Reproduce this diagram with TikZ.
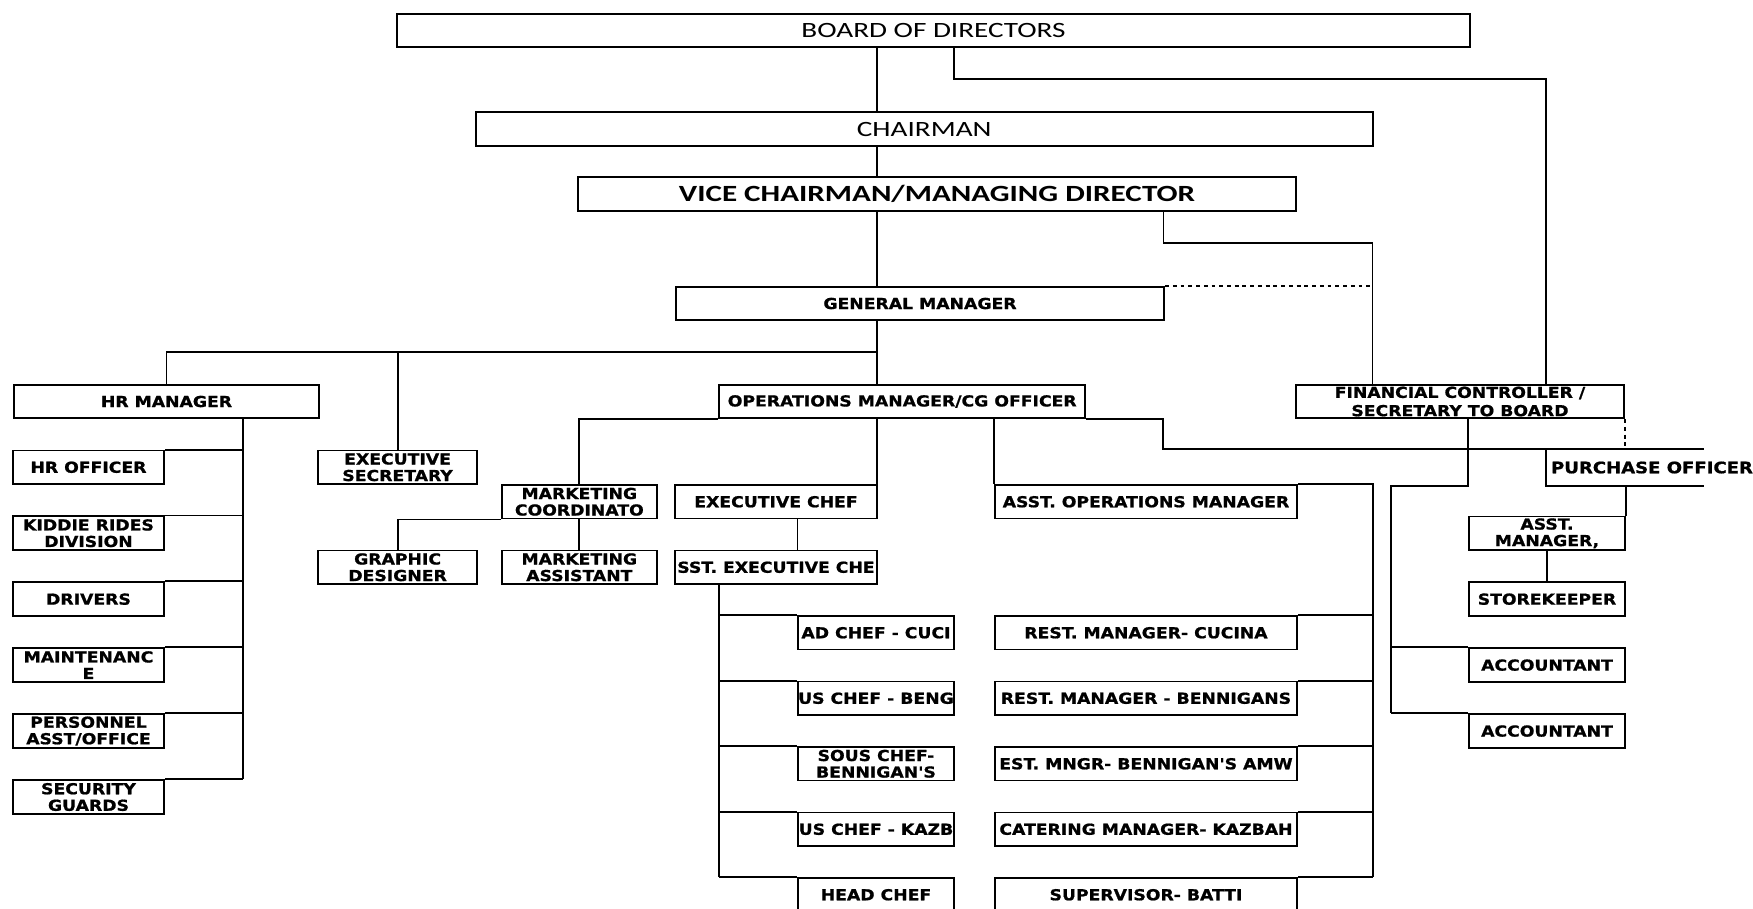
\documentclass[tikz,border=0pt]{standalone}
\usepackage{fontspec}
\setmainfont{DejaVu Sans}
\newfontfamily\pixfont[FakeStretch=1.14, BoldFeatures={FakeBold=1}]{DejaVu Sans}
\newfontfamily\capfont[FakeStretch=1.34]{Carlito}

\tikzset{
  orgbox/.style={draw, line width=.55pt, fill=white, inner sep=0pt, align=center,
    minimum height=.335cm, font={\pixfont\bfseries\fontsize{4.3}{4.7}\selectfont}},
  topbox/.style={orgbox, font={\capfont\fontsize{6.2}{7}\selectfont}},
  link/.style={line width=.55pt},
  dotlink/.style={link, dash pattern=on 1.1pt off 1.1pt},
}

\begin{document}
\begin{tikzpicture}[x=0.01cm, y=-0.01cm]
  \useasboundingbox (0,0) rectangle (1753,908);
  \clip (0,0) rectangle (1753,908);
  \fill[white] (0,0) rectangle (1753,908);

  %---------------- top ----------------
  \node[topbox, minimum width=10.72cm] (board) at (933.5,30.5) {BOARD OF DIRECTORS};
  \node[topbox, minimum width=8.965cm] (chair) at (924.25,129) {CHAIRMAN};
  \node[topbox, minimum width=7.17cm, minimum height=.34cm,
    font={\capfont\bfseries\fontsize{6.6}{7}\selectfont}] (vicechair) at (937,194) {VICE CHAIRMAN/MANAGING DIRECTOR};
  \node[orgbox, minimum width=4.88cm] (genmgr) at (920,303.5) {GENERAL MANAGER};

  %---------------- second tier ----------------
  \node[orgbox, minimum width=3.05cm] (hrmgr) at (166.5,401.5) {HR MANAGER};
  \node[orgbox, minimum width=3.655cm] (opsmgr) at (902.25,401.5) {OPERATIONS MANAGER/CG OFFICER};
  \node[orgbox, minimum width=3.286cm, font={\pixfont\bfseries\fontsize{4.3}{5.2}\selectfont}]
    (fincon) at (1460,401.5) {FINANCIAL CONTROLLER /\\SECRETARY TO BOARD};

  %---------------- hr ----------------
  \foreach \name/\txt [count=\i from 0] in {hroff/HR OFFICER, kiddie/{KIDDIE RIDES\\DIVISION},
      drivers/DRIVERS, maint/{MAINTENANC\\E}, persasst/{PERSONNEL\\ASST/OFFICE}, secguard/{SECURITY\\GUARDS}}
    \node[orgbox, minimum width=1.51cm] (\name) at (88.5,{467.25+65.95*\i}) {\txt};

  %---------------- marketing ----------------
  \node[orgbox, minimum width=1.584cm] (execsec) at (397.6,467.25) {EXECUTIVE\\SECRETARY};
  \node[orgbox, minimum width=1.584cm] (graphic) at (397.6,567.25) {GRAPHIC\\DESIGNER};
  \node[orgbox, minimum width=1.553cm] (mktcoord) at (579.35,501.75) {MARKETING\\COORDINATO};
  \node[orgbox, minimum width=1.553cm] (mktasst) at (579.35,567.25) {MARKETING\\ASSISTANT};

  %---------------- kitchen ----------------
  \node[orgbox, minimum width=2.02cm] (execchef) at (776,501.75) {EXECUTIVE CHEF};
  \node[orgbox, minimum width=2.02cm] (asstchef) at (776,567.25) {SST. EXECUTIVE CHE};
  \foreach \name/\txt [count=\i from 0] in {chefa/AD CHEF - CUCI, chefb/US CHEF - BENG,
      chefc/{SOUS CHEF-\\BENNIGAN'S}, chefd/US CHEF - KAZB, chefe/HEAD CHEF}
    \node[orgbox, minimum width=1.56cm] (\name) at (876,{632.75+65.5*\i}) {\txt};

  %---------------- restaurants ----------------
  \node[orgbox, minimum width=3.02cm] (asstops) at (1146,501.75) {ASST. OPERATIONS MANAGER};
  \foreach \name/\txt [count=\i from 0] in {resta/REST. MANAGER- CUCINA, restb/REST. MANAGER - BENNIGANS,
      restc/EST. MNGR- BENNIGAN'S AMW, restd/CATERING MANAGER- KAZBAH, reste/SUPERVISOR- BATTI}
    \node[orgbox, minimum width=3.02cm] (\name) at (1146,{632.75+65.5*\i}) {\txt};

  %---------------- finance ----------------
  \node[font={\pixfont\bfseries\fontsize{4.5}{5}\selectfont}, inner sep=0pt] (purch) at (1652,467.5) {PURCHASE OFFICER};
  \node[orgbox, minimum width=1.56cm] (asstmgr) at (1547,533.25) {ASST.\\MANAGER,};
  \node[orgbox, minimum width=1.56cm] (storekeep) at (1547,599.15) {STOREKEEPER};
  \node[orgbox, minimum width=1.56cm] (acct1) at (1547,665.1) {ACCOUNTANT};
  \node[orgbox, minimum width=1.56cm] (acct2) at (1547,731.05) {ACCOUNTANT};

  %---------------- links ----------------
  \coordinate (spine) at (877,0);
  \coordinate (bdturn) at (954,79);
  \coordinate (bddrop) at (1546,0);
  \coordinate (vcturn) at (1163.5,242.7);
  \coordinate (vcdrop) at (1372.5,0);
  \coordinate (gmbranch) at (877,352);
  \coordinate (hrspine) at (243,0);
  \coordinate (chefdrop) at (797.5,0);
  \coordinate (chefspine) at (719.2,0);
  \coordinate (restspine) at (1372.7,0);
  \coordinate (purturn) at (1163.3,449.3);
  \coordinate (purend) at (1704,449.3);
  \coordinate (purleft) at (1545.7,0);
  \coordinate (purbot) at (1704,485.7);
  \coordinate (acctturn) at (1390.7,485.7);

  \draw[link] (board.south -| spine) -- (chair.north -| spine);
  \draw[link] (chair.south -| spine) -- (vicechair.north -| spine);
  \draw[link] (vicechair.south -| spine) -- (genmgr.north -| spine);
  \draw[link] (genmgr.south -| spine) -- (opsmgr.north -| spine);
  \draw[link] (opsmgr.south -| spine) -- (execchef.north -| spine);
  \draw[link] (board.south -| bdturn) -- (bdturn) -| (fincon.north -| bddrop);
  \draw[link] (vicechair.south -| vcturn) -- (vcturn) -| (fincon.north -| vcdrop);
  \draw[dotlink] (genmgr.north east) -- (genmgr.north east -| vcdrop);

  \draw[link] (gmbranch) -| (hrmgr.north);
  \draw[link] (gmbranch -| execsec.north) -- (execsec.north);
  \draw[link] (hrmgr.south -| hrspine) -- (secguard.north east -| hrspine);
  \foreach \name in {hroff, kiddie, drivers, maint, persasst, secguard}
    \draw[link] (\name.north east) -- (\name.north east -| hrspine);

  \draw[link] (opsmgr.south west) -| (mktcoord.north);
  \draw[link] (mktcoord.south west) -| (graphic.north);
  \draw[link] (mktcoord.south) -- (mktasst.north);

  \draw[link] (execchef.south -| chefdrop) -- (asstchef.north -| chefdrop);
  \draw[link] (asstchef.south -| chefspine) -- (chefe.north west -| chefspine);
  \foreach \name in {chefa, chefb, chefc, chefd, chefe}
    \draw[link] (\name.north west -| chefspine) -- (\name.north west);

  \draw[link] (opsmgr.south -| asstops.west) -- (asstops.north west);
  \draw[link] (asstops.north east) -- (asstops.north east -| restspine) -- (reste.north east -| restspine);
  \foreach \name in {resta, restb, restc, restd, reste}
    \draw[link] (\name.north east) -- (\name.north east -| restspine);

  \draw[link] (opsmgr.south east) -| (purturn) -- (purend);
  \draw[link] (purend -| purleft) |- (purbot);
  \draw[dotlink] (fincon.south east) -- (fincon.south east |- purend);
  \draw[link] (asstmgr.north east |- purbot) -- (asstmgr.north east);
  \draw[link] (asstmgr.south) -- (storekeep.north);

  \draw[link] (fincon.south -| acct1.west) |- (acctturn) -- (acctturn |- acct2.north);
  \draw[link] (acctturn |- acct1.north) -- (acct1.north west);
  \draw[link] (acctturn |- acct2.north) -- (acct2.north west);
\end{tikzpicture}
\end{document}
